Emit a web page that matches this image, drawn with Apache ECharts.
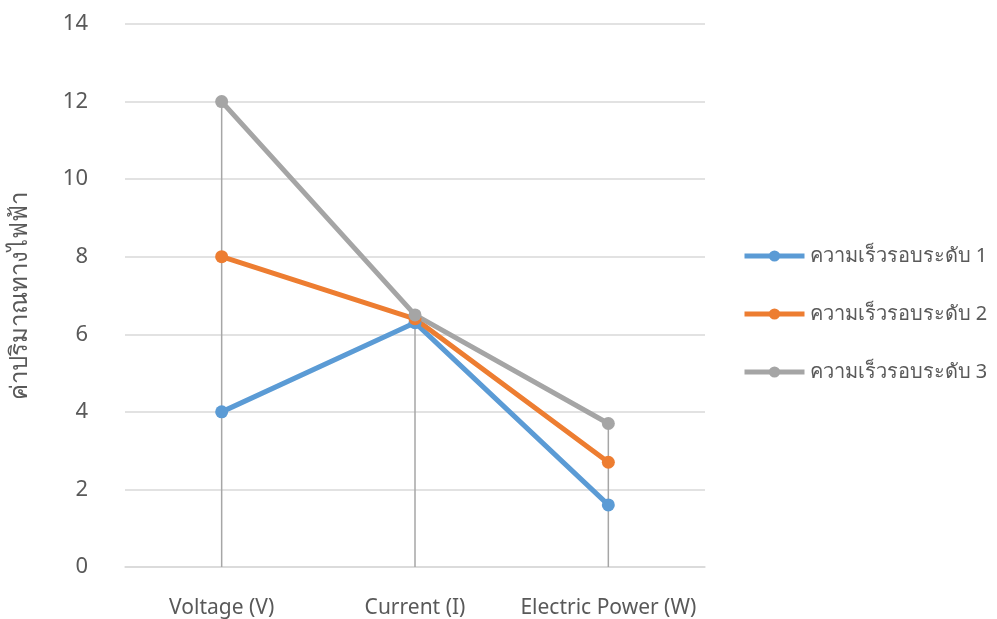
<!DOCTYPE html>
<html><head><meta charset="utf-8">
<script src="https://cdn.jsdelivr.net/npm/echarts@6/dist/echarts.min.js"></script>
<style>html,body{margin:0;padding:0;background:#fff}#c{width:997px;height:619px}</style>
</head><body><div id="c"></div>
<script>
const categories = ['Voltage (V)', 'Current (I)', 'Electric Power (W)'];
const speed1 = [4, 6.3, 1.6];
const speed2 = [8, 6.4, 2.7];
const speed3 = [12, 6.5, 3.7];
const seriesNames = ['ความเร็วรอบระดับ 1', 'ความเร็วรอบระดับ 2', 'ความเร็วรอบระดับ 3'];
const yTicks = [0, 2, 4, 6, 8, 10, 12, 14];
const yTitle = 'ค่าปริมาณทางไฟฟ้า';
const dropTops = categories.map((_, i) => Math.max(speed1[i], speed2[i], speed3[i]));

const colors = ['#5b9bd5', '#ed7d31', '#a5a5a5'];
const font = '"Noto Sans", "DejaVu Sans", sans-serif';
const chart = echarts.init(document.getElementById('c'));
function lineSeries(name, data, color) {
  return {
    name, type: 'line', data, color,
    symbol: 'circle', symbolSize: 13,
    lineStyle: { width: 5, color },
    itemStyle: { color },
    z: 3
  };
}
chart.setOption({
  animation: false,
  grid: { left: 125, right: 292, top: 24, bottom: 51 },
  legend: {
    orient: 'vertical', left: 737, top: 241, itemGap: 38,
    itemWidth: 60, itemHeight: 14,
    lineStyle: { width: 5 },
    textStyle: { color: '#595959', fontSize: 20, fontFamily: font },
    data: seriesNames
  },
  xAxis: {
    type: 'category', data: categories, boundaryGap: true,
    axisLine: { lineStyle: { color: '#d9d9d9', width: 1.5 } },
    axisTick: { show: false },
    axisLabel: { interval: 0, color: '#595959', fontSize: 21, margin: 31, fontFamily: font }
  },
  yAxis: {
    type: 'value', min: yTicks[0], max: yTicks[yTicks.length - 1], interval: 2,
    name: yTitle, nameLocation: 'middle', nameGap: 93, nameRotate: 90,
    nameTextStyle: { color: '#595959', fontSize: 24, fontFamily: font },
    axisLine: { show: false }, axisTick: { show: false },
    axisLabel: { color: '#595959', fontSize: 22, margin: 37, fontFamily: font },
    splitLine: { lineStyle: { color: '#d9d9d9', width: 1.5 } }
  },
  series: [
    { type: 'bar', data: dropTops, barWidth: 1.5, itemStyle: { color: '#a6a6a6' }, z: 1, silent: true, legendHoverLink: false },
    lineSeries(seriesNames[0], speed1, colors[0]),
    lineSeries(seriesNames[1], speed2, colors[1]),
    lineSeries(seriesNames[2], speed3, colors[2])
  ]
});
</script></body></html>
